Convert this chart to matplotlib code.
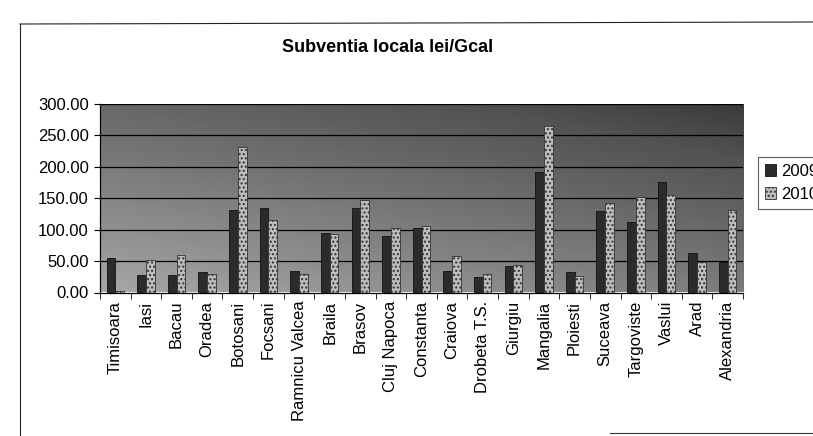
import numpy as np
import matplotlib
matplotlib.use("Agg")
import matplotlib.pyplot as plt
from matplotlib.lines import Line2D

plt.rcParams['font.family'] = ['Liberation Sans', 'DejaVu Sans']

orase = ['Timisoara', 'Iasi', 'Bacau', 'Oradea', 'Botosani', 'Focsani',
         'Ramnicu Valcea', 'Braila', 'Brasov', 'Cluj Napoca', 'Constanta',
         'Craiova', 'Drobeta T.S.', 'Giurgiu', 'Mangalia', 'Ploiesti',
         'Suceava', 'Targoviste', 'Vaslui', 'Arad', 'Alexandria']
subv2009 = [55, 28, 28, 32, 132, 135, 35, 95, 135, 90, 102,
            35, 25, 42, 192, 32, 130, 112, 176, 63, 48]
subv2010 = [3, 52, 60, 30, 232, 115, 30, 93, 148, 103, 106,
            58, 30, 44, 265, 26, 143, 152, 155, 48, 132]
ani = ['2009', '2010']
yticks = [0, 50, 100, 150, 200, 250, 300]

W, H = 813, 436
fig = plt.figure(figsize=(W / 100, H / 100), dpi=100)
fig.patch.set_facecolor('white')

# chenarul graficului (scanat, partial vizibil)
fig.add_artist(Line2D([20 / W, 20 / W], [0, 1 - 24 / H], color='#222', lw=0.8))
fig.add_artist(Line2D([20 / W, 1], [1 - 24 / H, 1 - 22 / H], color='#222', lw=0.8))
fig.add_artist(Line2D([610 / W, 1], [1 - 433 / H, 1 - 433 / H], color='#333', lw=0.8))

ax = fig.add_axes([100 / W, 1 - 292.5 / H, 643 / W, 188.5 / H])

# fundal in degrade (zona de plotare)
gx, gy = np.meshgrid(np.linspace(0, 1, 200), np.linspace(0, 1, 100))
grad = 0.6 * gy + 0.4 * gx
ax.imshow(grad, extent=[-0.5, 20.5, 0, 300], origin='lower', aspect='auto',
          cmap='Greys', vmin=-1.2, vmax=1.5, zorder=0)

for v in yticks[1:]:
    ax.axhline(v, color='black', lw=0.9, zorder=1)

x = np.arange(len(orase))
w = 1 / 3.5
ax.bar(x - w / 2, subv2009, w, color='#2b2b2b', edgecolor='#111', lw=0.6,
       zorder=2, label=ani[0])
ax.bar(x + w / 2, subv2010, w, color='#bdbdbd', edgecolor='#333', lw=0.6,
       hatch='....', zorder=2, label=ani[1])

ax.set_xlim(-0.5, len(orase) - 0.5)
ax.set_ylim(0, 300)
ax.set_yticks(yticks)
ax.set_yticklabels(['%.2f' % v for v in yticks], fontsize=12)
ax.set_xticks(x)
ax.set_xticklabels(orase, rotation=90, fontsize=12)
ax.set_xticks(np.arange(len(orase) + 1) - 0.5, minor=True)
ax.tick_params(axis='x', which='major', length=0, pad=6)
ax.tick_params(axis='x', which='minor', length=4, direction='out')
ax.tick_params(axis='y', length=4, direction='out', pad=4)
for s in ['top', 'right']:
    ax.spines[s].set_visible(False)
ax.spines['left'].set_linewidth(0.9)
ax.spines['bottom'].set_linewidth(0.9)

fig.text(388 / W, 1 - 48 / H, 'Subventia locala lei/Gcal', ha='center',
         va='center', fontsize=13, fontweight='bold')

leg = fig.legend(loc='upper left', bbox_to_anchor=(758 / W, 1 - 157 / H),
                 fontsize=12, frameon=True, fancybox=False, handlelength=0.7,
                 handleheight=0.7, handletextpad=0.3, borderpad=0.4,
                 labelspacing=0.5, borderaxespad=0)
leg.get_frame().set_edgecolor('#333')
leg.get_frame().set_linewidth(0.8)

fig.savefig('out.png', dpi=100)
